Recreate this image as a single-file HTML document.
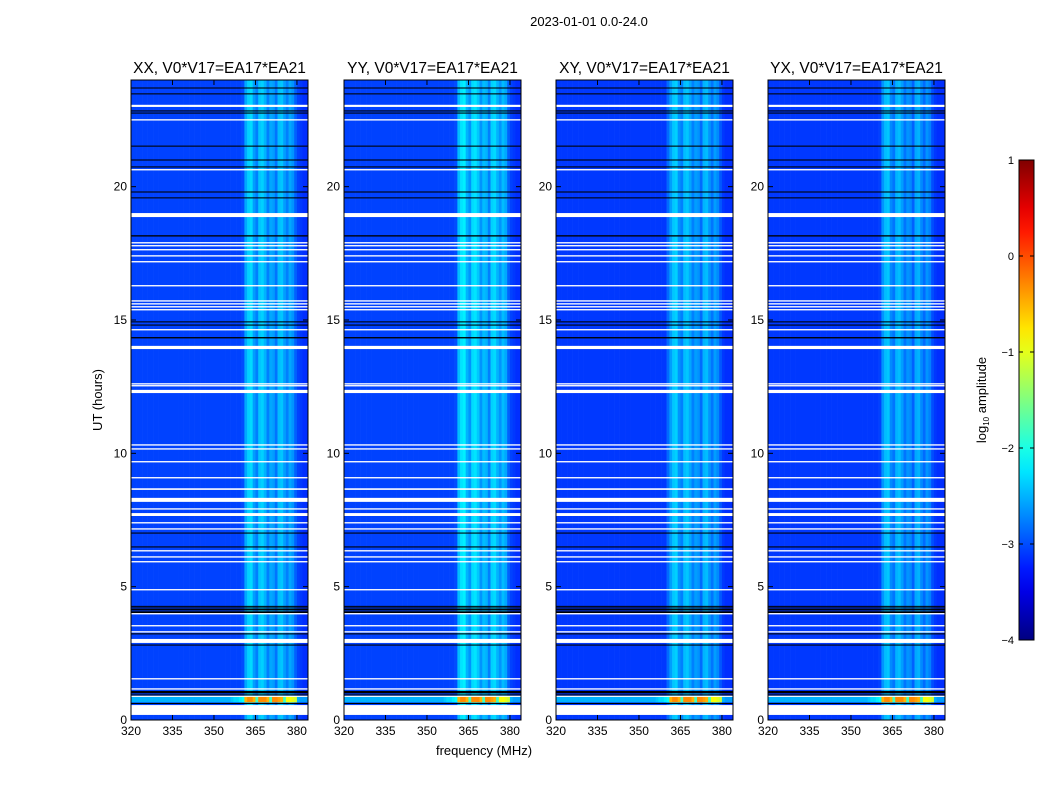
<!DOCTYPE html>
<html><head><meta charset="utf-8"><style>
body{margin:0;background:#fff;}
svg text{font-family:"Liberation Sans",sans-serif;fill:#000;}
</style></head><body>
<svg id="fig" width="1050" height="800" viewBox="0 0 1050 800">
<rect width="1050" height="800" fill="#fff"/>
<text x="589" y="26" font-size="13" text-anchor="middle">2023-01-01 0.0-24.0</text>
<text x="484" y="755" font-size="13" text-anchor="middle">frequency (MHz)</text>
<text transform="translate(102,400) rotate(-90)" font-size="13" text-anchor="middle">UT (hours)</text>
<text transform="translate(986,400) rotate(-90)" font-size="13" text-anchor="middle">log<tspan font-size="8" dy="3">10</tspan><tspan dy="-3"> amplitude</tspan></text>
<g id="panels"></g>
<g id="cbar"></g>
</svg>
<script>
// ---- data ----
const panelTitles = ["XX, V0*V17=EA17*EA21","YY, V0*V17=EA17*EA21","XY, V0*V17=EA17*EA21","YX, V0*V17=EA17*EA21"];
const freqStart = 320; // MHz, one channel per MHz
const spectrumXX = [-3.05,-3.05,-3.05,-3.05,-3.05,-3.05,-3.05,-3.05,-3.05,-3.05,-3.05,-3.05,-3.05,-3.05,-3.05,-3.05,-3.05,-3.05,-3.05,-3.05,-3.05,-3.05,-3.05,-3.05,-3.05,-3.05,-3.05,-3.05,-3.05,-3.05,-3.05,-3.05,-3.05,-3.05,-3.05,-3.05,-3.05,-3.05,-3.05,-3.05,-3.0,-2.55,-2.35,-2.3,-2.6,-2.75,-2.4,-2.35,-2.5,-2.75,-2.55,-2.6,-2.8,-2.45,-2.4,-2.6,-2.75,-2.55,-2.65,-2.9,-3.05,-3.1,-3.15,-3.15];
const spectrumYY = [-3.05,-3.05,-3.05,-3.05,-3.05,-3.05,-3.05,-3.05,-3.05,-3.05,-3.05,-3.05,-3.05,-3.05,-3.05,-3.05,-3.05,-3.05,-3.05,-3.05,-3.05,-3.05,-3.05,-3.05,-3.05,-3.05,-3.05,-3.05,-3.05,-3.05,-3.05,-3.05,-3.05,-3.05,-3.05,-3.05,-3.05,-3.05,-3.05,-3.05,-3.0,-2.45,-2.25,-2.2,-2.5,-2.65,-2.3,-2.25,-2.4,-2.65,-2.45,-2.5,-2.75,-2.35,-2.3,-2.5,-2.65,-2.45,-2.55,-2.9,-3.05,-3.1,-3.15,-3.15];
const spectrumXY = [-3.1,-3.1,-3.1,-3.1,-3.1,-3.1,-3.1,-3.1,-3.1,-3.1,-3.1,-3.1,-3.1,-3.1,-3.1,-3.1,-3.1,-3.1,-3.1,-3.1,-3.1,-3.1,-3.1,-3.1,-3.1,-3.1,-3.1,-3.1,-3.1,-3.1,-3.1,-3.1,-3.1,-3.1,-3.1,-3.1,-3.1,-3.1,-3.1,-3.1,-2.85,-2.6,-2.4,-2.35,-2.65,-2.75,-2.45,-2.4,-2.55,-2.75,-2.6,-2.65,-2.85,-2.5,-2.45,-2.65,-2.8,-2.6,-2.7,-2.95,-3.1,-3.15,-3.15,-3.15];
const spectrumYX = [-3.1,-3.1,-3.1,-3.1,-3.1,-3.1,-3.1,-3.1,-3.1,-3.1,-3.1,-3.1,-3.1,-3.1,-3.1,-3.1,-3.1,-3.1,-3.1,-3.1,-3.1,-3.1,-3.1,-3.1,-3.1,-3.1,-3.1,-3.1,-3.1,-3.1,-3.1,-3.1,-3.1,-3.1,-3.1,-3.1,-3.1,-3.1,-3.1,-3.1,-3.05,-2.65,-2.45,-2.4,-2.7,-2.8,-2.5,-2.45,-2.6,-2.8,-2.65,-2.7,-2.9,-2.55,-2.5,-2.7,-2.85,-2.65,-2.75,-3.0,-3.1,-3.15,-3.15,-3.15];
const spectra = [spectrumXX, spectrumYY, spectrumXY, spectrumYX];
// strong rows near 0.7-0.86 h
const burstXX = [-2.5,-2.5,-2.5,-2.5,-2.5,-2.5,-2.5,-2.5,-2.5,-2.5,-2.5,-2.5,-2.5,-2.5,-2.5,-2.5,-2.5,-2.5,-2.5,-2.5,-2.5,-2.5,-2.5,-2.5,-2.5,-2.5,-2.5,-2.5,-2.5,-2.5,-2.5,-2.5,-2.5,-2.5,-2.5,-2.5,-2.4,-2.3,-2.3,-2.2,-2.1,-0.5,-0.3,-0.3,-0.5,-1.8,-0.3,-0.3,-0.3,-0.5,-1.8,-0.3,-0.3,-0.4,-0.5,-1.8,-0.9,-0.9,-1.0,-1.1,-2.5,-2.6,-2.6,-2.6];
const burstRows = [0.66, 0.88];
// flagged time ranges [start h, end h]
const whiteFlags = [[22.99,23.07],[22.48,22.53],[20.61,20.66],[18.86,19.01],[17.87,17.92],[17.76,17.81],[17.61,17.66],[17.38,17.43],[17.16,17.21],[16.26,16.31],[15.69,15.74],[15.58,15.63],[15.47,15.52],[15.36,15.41],[14.61,14.66],[13.91,14.03],[12.58,12.63],[12.51,12.56],[12.26,12.38],[10.29,10.34],[10.14,10.19],[9.66,9.71],[9.06,9.11],[8.63,8.69],[8.18,8.33],[7.89,7.94],[7.65,7.76],[7.37,7.42],[7.14,7.19],[6.32,6.37],[6.09,6.14],[5.91,5.96],[4.86,4.91],[3.96,4.01],[3.51,3.56],[3.28,3.33],[2.89,3.04],[1.52,1.57],[1.14,1.19],[0.88,0.91],[0.19,0.56]];
const blackFlags = [[23.68,23.72],[23.46,23.5],[22.82,22.86],[22.74,22.78],[21.5,21.54],[20.98,21.02],[20.72,20.76],[19.78,19.82],[19.56,19.6],[18.13,18.18],[14.91,14.95],[14.79,14.83],[14.31,14.36],[6.99,7.03],[6.47,6.51],[4.25,4.28],[4.19,4.22],[4.13,4.16],[4.07,4.1],[4.02,4.05],[3.21,3.25],[2.79,2.83],[1.0,1.09],[0.92,0.96],[0.6,0.64]];
const yTicks = [0,5,10,15,20];
const xTicks = [320,335,350,365,380];
const cbarTicks = [1,0,-1,-2,-3,-4];

// ---- geometry ----
const panelLefts = [131,344,556,768];
const pW = 177, pTop = 80, pBot = 720;
const fMin = 320, fMax = 384, tMin = 0, tMax = 24;
const NS = "http://www.w3.org/2000/svg";
function jet(v){
  let t = Math.max(0, Math.min(1, (v + 4) / 5));
  const c = k => Math.round(255 * Math.max(0, Math.min(1, 1.5 - Math.abs(4 * t - k))));
  return `rgb(${c(3)},${c(2)},${c(1)})`;
}
function el(tag, attrs, parent){
  const e = document.createElementNS(NS, tag);
  for (const k in attrs) e.setAttribute(k, attrs[k]);
  parent.appendChild(e); return e;
}
const panels = document.getElementById('panels');
panelLefts.forEach((L, p) => {
  const xs = f => L + (f - fMin) / (fMax - fMin) * pW;
  const ys = h => pBot - (h - tMin) / (tMax - tMin) * (pBot - pTop);
  const g = el('g', {}, panels);
  
  
  const spec = spectra[p];
  spec.forEach((v, i) => {
    const r = el('rect', {x: xs(freqStart + i), y: pTop, width: xs(freqStart + i + 1) - xs(freqStart + i) + 0.3, height: pBot - pTop, fill: jet(v)}, g);
    
    
  });
  burstXX.forEach((v, i) => {
    const r = el('rect', {x: xs(freqStart + i), y: ys(burstRows[1]), width: xs(freqStart + i + 1) - xs(freqStart + i) + 0.3, height: ys(burstRows[0]) - ys(burstRows[1]), fill: jet(v)}, g);
    
    
  });
  whiteFlags.forEach(f => {
    const r = el('rect', {x: L, y: ys(f[1]), width: pW, height: Math.max(1.2, ys(f[0]) - ys(f[1])), fill: '#fff'}, g);
    
    
  });
  blackFlags.forEach(f => {
    const r = el('rect', {x: L, y: ys(f[1]), width: pW, height: Math.max(1, ys(f[0]) - ys(f[1])), fill: '#000'}, g);
    
    
  });
  const fr = el('rect', {x: L, y: pTop, width: pW, height: pBot - pTop, fill: 'none', stroke: '#000', 'stroke-width': 1}, g);
  
  
  const tt = el('text', {x: L + pW / 2, y: 73, 'font-size': 15.5, 'text-anchor': 'middle'}, g);
  tt.textContent = panelTitles[p];
  
  
  yTicks.forEach(h => {
    const y = ys(h);
    el('line', {x1: L, x2: L + 5, y1: y, y2: y, stroke: '#000'}, g);
    el('line', {x1: L + pW - 5, x2: L + pW, y1: y, y2: y, stroke: '#000'}, g);
    const t = el('text', {x: L - 4, y: y + 4, 'font-size': 12, 'text-anchor': 'end'}, g);
    t.textContent = h;
    
    
  });
  xTicks.forEach(f => {
    const x = xs(f);
    el('line', {x1: x, x2: x, y1: pBot, y2: pBot - 5, stroke: '#000'}, g);
    el('line', {x1: x, x2: x, y1: pTop, y2: pTop + 5, stroke: '#000'}, g);
    const t = el('text', {x: x, y: 735, 'font-size': 12, 'text-anchor': 'middle'}, g);
    t.textContent = f;
    
    
  });
});
// colorbar
const cb = document.getElementById('cbar');
const cbX = 1019, cbW = 15, cbTop = 160, cbBot = 640;
const cy = v => cbBot - (v + 4) / 5 * (cbBot - cbTop);
const defs = el('defs', {}, cb);
const grad = el('linearGradient', {id: 'jetg', x1: 0, y1: 1, x2: 0, y2: 0}, defs);
for (let s = 0; s <= 20; s++) el('stop', {offset: s / 20, 'stop-color': jet(-4 + s / 4)}, grad);
const cr = el('rect', {x: cbX, y: cbTop, width: cbW, height: cbBot - cbTop, fill: 'url(#jetg)', stroke: '#000'}, cb);


cbarTicks.forEach(v => {
  const y = cy(v);
  el('line', {x1: cbX, x2: cbX + 4, y1: y, y2: y, stroke: '#000'}, cb);
  el('line', {x1: cbX + cbW - 4, x2: cbX + cbW, y1: y, y2: y, stroke: '#000'}, cb);
  const t = el('text', {x: cbX - 5, y: y + 4, 'font-size': 11, 'text-anchor': 'end'}, cb);
  t.textContent = v < 0 ? '\u2212' + (-v) : String(v);
  
  
});
</script>
</body></html>
